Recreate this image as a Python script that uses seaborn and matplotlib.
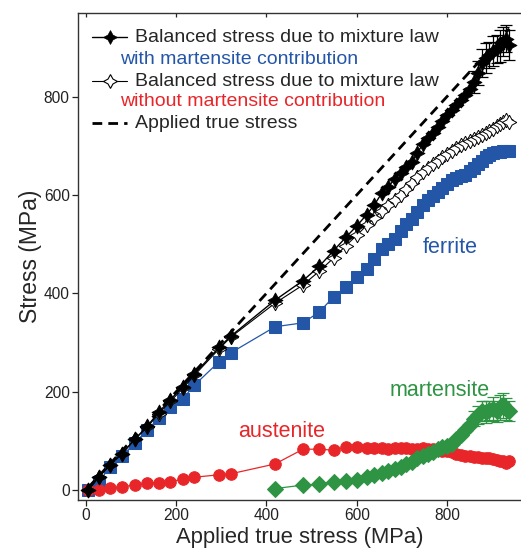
import numpy as np
import pandas as pd
import matplotlib
matplotlib.use("Agg")
import matplotlib.pyplot as plt
import seaborn as sns

sns.set_style("ticks")
plt.rcParams['font.family'] = ['Liberation Sans', 'DejaVu Sans']

# ---------------- data ----------------
applied = [5, 29, 53, 80, 108, 136, 161, 187, 215, 240, 295, 321, 419, 481, 517, 549,
           576, 600, 622, 639, 655, 670, 684, 697, 710, 722, 734, 746, 757, 768, 779, 790,
           800, 810, 820, 830, 840, 850, 860, 869, 878, 886, 894, 902, 910, 917, 924, 931, 938]

with_mart = [0, 27, 51, 74, 103, 130, 158, 184, 210, 236, 290, 313, 386, 426, 455, 487,
             514, 537, 560, 580, 603, 617, 632, 645, 657, 668, 685, 703, 715, 727, 738, 750,
             762, 772, 783, 794, 804, 815, 830, 848, 868, 878, 885, 893, 897, 903, 912, 918, 905]

without_mart = [0, 27, 51, 74, 103, 128, 155, 180, 207, 233, 287, 311, 380, 417, 445, 472,
                497, 518, 538, 553, 567, 580, 590, 600, 612, 624, 636, 646, 654, 662, 670, 678,
                684, 690, 696, 702, 706, 710, 714, 718, 722, 726, 730, 735, 740, 744, 748, 752, 748]

ferrite = [0, 17, 47, 69, 96, 122, 146, 169, 186, 213, 261, 279, 332, 340, 362, 393,
           413, 433, 450, 470, 491, 501, 511, 527, 541, 552, 565, 580, 590, 598, 606, 615,
           622, 630, 635, 638, 641, 648, 655, 662, 670, 677, 682, 686, 688, 688, 689, 689, 689]

austenite = [0, 1, 4, 7, 10, 14, 15, 17, 22, 26, 31, 33, 53, 83, 83, 81,
             87, 88, 86, 85, 85, 84, 85, 86, 85, 84, 84, 85, 84, 84, 82, 80,
             79, 77, 74, 72, 70, 69, 68, 67, 66, 65, 65, 64, 62, 60, 58, 55, 58]

mart_applied = applied[12:]
martensite = [3, 10, 12, 17, 19, 20, 27, 30, 35, 39, 43, 47, 52, 57, 65, 70, 74, 78, 84,
              88, 90, 93, 103, 112, 122, 132, 145, 152, 160, 158, 162, 165, 160, 168, 172, 165, 160]

err_applied = applied[38:]
with_mart_err = [22, 25, 28, 30, 26, 30, 28, 32, 30, 28, 30]
err_with_mart = with_mart[38:]
mart_err = [15, 18, 20, 22, 20, 24, 22, 25, 26, 22, 20]
err_mart = martensite[-11:]

x_ticks = [0, 200, 400, 600, 800]
y_ticks = [0, 200, 400, 600, 800]

# ---------------- figure ----------------
fig = plt.figure(figsize=(5.21, 5.52), dpi=100)
ax = fig.add_axes([78/521, 1 - 500/552, (521 - 78)/521, (500 - 13)/552])

blue = "#2456a8"
red = "#e8262a"
green = "#2e9444"

sns.lineplot(x=applied, y=ferrite, ax=ax, color=blue, lw=0.9, marker="s",
             markersize=8.3, markeredgecolor=blue, markerfacecolor=blue, sort=False,
             estimator=None, zorder=2)
sns.lineplot(x=applied, y=austenite, ax=ax, color=red, lw=0.9, marker="o",
             markersize=8.3, markeredgecolor=red, markerfacecolor=red, sort=False,
             estimator=None, zorder=3)
ax.errorbar(err_applied, err_mart, yerr=mart_err, fmt="none", ecolor=green,
            elinewidth=0.9, capsize=4, capthick=0.9, zorder=3.5)
sns.lineplot(x=mart_applied, y=martensite, ax=ax, color=green, lw=0.9, marker="D",
             markersize=8.3, markeredgecolor=green, markerfacecolor=green, sort=False,
             estimator=None, zorder=4)
sns.lineplot(x=applied, y=without_mart, ax=ax, color="black", lw=0.8, marker=(4, 1, 0),
             markersize=10.5, markeredgecolor="black", markerfacecolor="white",
             markeredgewidth=0.7, sort=False, estimator=None, zorder=5)
ax.errorbar(err_applied, err_with_mart, yerr=with_mart_err, fmt="none", ecolor="black",
            elinewidth=0.9, capsize=4, capthick=0.9, zorder=5.5)
sns.lineplot(x=applied, y=with_mart, ax=ax, color="black", lw=1.0, marker=(4, 1, 0),
             markersize=11, markeredgecolor="black", markerfacecolor="black",
             markeredgewidth=0.5, sort=False, estimator=None, zorder=6)
sns.lineplot(x=applied, y=applied, ax=ax, color="black", lw=2.0, sort=False,
             estimator=None, zorder=7)
ax.lines[-1].set_dashes([3.5, 2.2])

ax.set_xlim(-17.7, 964)
ax.set_ylim(-20.3, 970)
ax.set_xticks(x_ticks)
ax.set_yticks(y_ticks)
ax.tick_params(axis="both", labelsize=11.2, direction="out", length=4, width=0.9,
               colors="#222222", pad=2)
ax.tick_params(axis="x", top=False, labeltop=False)
sec = ax.secondary_xaxis("top")
sec.set_xticks(x_ticks)
sec.tick_params(direction="in", length=3, width=0.9, labeltop=False)
sec.spines["top"].set_visible(False)

for s in ["left", "bottom", "top"]:
    ax.spines[s].set_linewidth(1.0)
    ax.spines[s].set_color("#333333")
ax.spines["right"].set_visible(False)

ax.set_xlabel("Applied true stress (MPa)", fontsize=15.8, labelpad=3)
ax.set_ylabel("Stress (MPa)", fontsize=16.5, labelpad=1)

# phase labels
ax.text(807, 494, "ferrite", color=blue, fontsize=15.5, ha="center", va="center")
ax.text(434, 118, "austenite", color=red, fontsize=15.5, ha="center", va="center")
ax.text(784, 203, "martensite", color=green, fontsize=15.5, ha="center", va="center")

# legend (manual)
tr = ax.transAxes
hx0, hx1 = (92 - 78)/443, (127 - 78)/443
tx = (135 - 78)/443
sx = (120 - 78)/443
def yf(py):
    return 1 - (py - 13)/487
leg_fs = 14
ax.plot([hx0, (hx0+hx1)/2, hx1], [yf(37)]*3, transform=tr, color="black", lw=1,
        marker=(4, 1, 0), markersize=10, markevery=[1], markerfacecolor="black",
        markeredgecolor="black", markeredgewidth=0.5, clip_on=False, zorder=8)
ax.text(tx, yf(37), "Balanced stress due to mixture law", transform=tr, fontsize=leg_fs,
        va="center", ha="left")
ax.text(sx, yf(60), "with martensite contribution", transform=tr, fontsize=leg_fs,
        va="center", ha="left", color=blue)
ax.plot([hx0, (hx0+hx1)/2, hx1], [yf(81)]*3, transform=tr, color="black", lw=0.8,
        marker=(4, 1, 0), markersize=10, markevery=[1], markerfacecolor="white",
        markeredgecolor="black", markeredgewidth=0.8, clip_on=False, zorder=8)
ax.text(tx, yf(81), "Balanced stress due to mixture law", transform=tr, fontsize=leg_fs,
        va="center", ha="left")
ax.text(sx, yf(101), "without martensite contribution", transform=tr, fontsize=leg_fs,
        va="center", ha="left", color=red)
dl, = ax.plot([hx0, hx1], [yf(123)]*2, transform=tr, color="black", lw=2.0,
              clip_on=False, zorder=8)
dl.set_dashes([3.5, 2.2])
ax.text(tx, yf(123), "Applied true stress", transform=tr, fontsize=leg_fs,
        va="center", ha="left")

fig.savefig("out.png", dpi=100)
